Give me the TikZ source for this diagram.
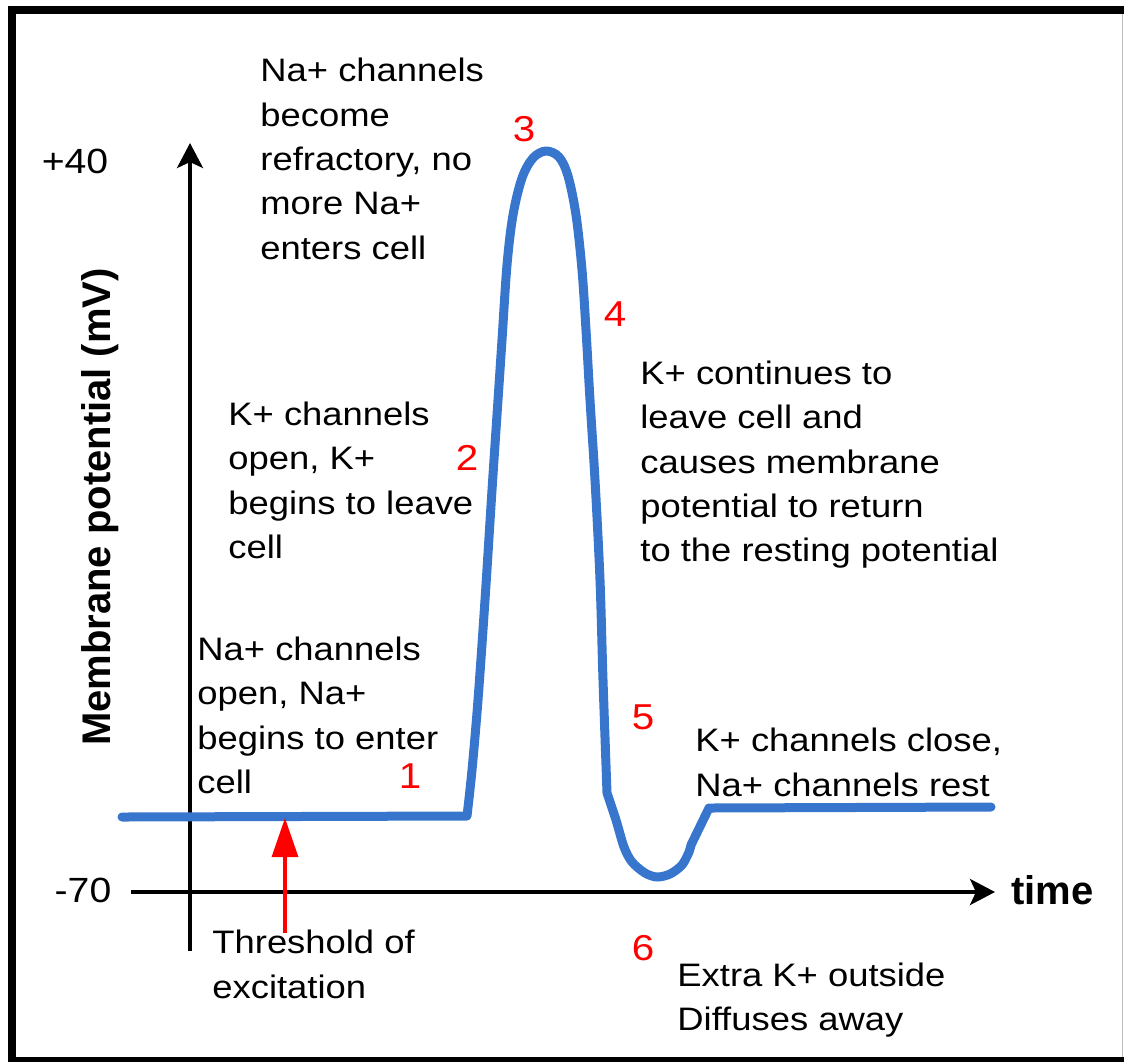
\documentclass[tikz,border=0pt]{standalone}
\usepackage{fontspec}
\setmainfont{Liberation Sans}[FakeStretch=1.12]
\newfontfamily\labfont{Liberation Sans}
\usetikzlibrary{arrows.meta}
\definecolor{curveblue}{RGB}{55,118,204}
\definecolor{numred}{RGB}{255,0,0}
\begin{document}
\begin{tikzpicture}[x=0.5pt,y=-0.5pt,
  txt/.style={anchor=north west, inner sep=0pt, align=left,
    font=\fontsize{16.25pt}{22.15pt}\selectfont},
  num/.style={inner sep=0pt, text=numred, font=\fontsize{18pt}{20pt}\selectfont},
  ticklab/.style={inner sep=0pt, font=\fontsize{17.5pt}{20pt}\selectfont},
  axlab/.style={inner sep=0pt, font=\labfont\bfseries\fontsize{20pt}{24pt}\selectfont},
  axis/.style={line width=1.8pt, -{Stealth[length=12.5pt,width=13pt,inset=3pt]}},
  curve/.style={curveblue, line width=4.5pt, line cap=round, line join=round},
  thrarrow/.style={numred, line width=1.6pt, -{Triangle[length=19.5pt,width=13pt]}}
]
\useasboundingbox (0,0) rectangle (1124,1062);
% frame
\fill[black] (8,6) rectangle (1124,14);
\fill[black] (8,6) rectangle (16,1062);
\fill[black] (8,1057) rectangle (1124,1062);
\draw[black!25, line width=0.6pt] (1122.5,14) -- (1122.5,1057);

% axes
\coordinate (yb) at (190,951);
\coordinate (yt) at (190,143);
\coordinate (xl) at (131,892);
\coordinate (xr) at (995,892);
\draw[axis] (yb) -- (yt);
\draw[axis] (xl) -- (xr);

% axis labels
\node[ticklab] (p40) at (75,161) {+40};
\node[ticklab] (m70) at (83,890) {-70};
\node[axlab, anchor=base west] (time) at (1011,904) {time};
\node[axlab, anchor=base, rotate=90] (ylab) at (110,507) {Membrane potential (mV)};

% action potential curve
\draw[curve] (122,817) -- (467,816)
  -- plot[smooth, tension=0.55] coordinates {(467,816) (472,770) (478,700)
     (485,600) (492,490) (498,400) (502,340) (507,265) (513,215)
     (522,178) (533,158) (546,151) (559,157) (568,176) (576,215)
     (582,270) (586,330) (590,400) (595,480) (600,580) (603,680) (607,793)}
  -- plot[smooth, tension=0.5] coordinates {(607,793) (616,820) (624,847) (632,862)
     (645,873) (657,877) (670,874) (682,865) (689,852) (691,845)}
  -- (709,808) -- (991,807);

% threshold arrow
\coordinate (thrS) at (285,933);
\coordinate (thrT) at (285,818);
\draw[thrarrow] (thrS) -- (thrT);

% texts
\node[txt] (tA) at (260,58) {Na+ channels\\become\\refractory, no\\more Na+\\enters cell};
\node[txt] (tB) at (228,401.7) {K+ channels\\open, K+\\begins to leave\\cell};
\node[txt] (tC) at (197,636.7) {Na+ channels\\open, Na+\\begins to enter\\cell};
\node[txt] (tD) at (640,360.7) {K+ continues to\\leave cell and\\causes membrane\\potential to return\\to the resting potential};
\node[txt] (tE) at (695,728) {K+ channels close,\\Na+ channels rest};
\node[txt] (tF) at (212,930) {Threshold of\\excitation};
\node[txt] (tG) at (677,962.7) {Extra K+ outside\\Diffuses away};

% red step numbers
\node[num] (n1) at (410,776) {1};
\node[num] (n2) at (467,458) {2};
\node[num] (n3) at (524,129) {3};
\node[num] (n4) at (615,314) {4};
\node[num] (n5) at (643,717) {5};
\node[num] (n6) at (643,948) {6};
\end{tikzpicture}
\end{document}
